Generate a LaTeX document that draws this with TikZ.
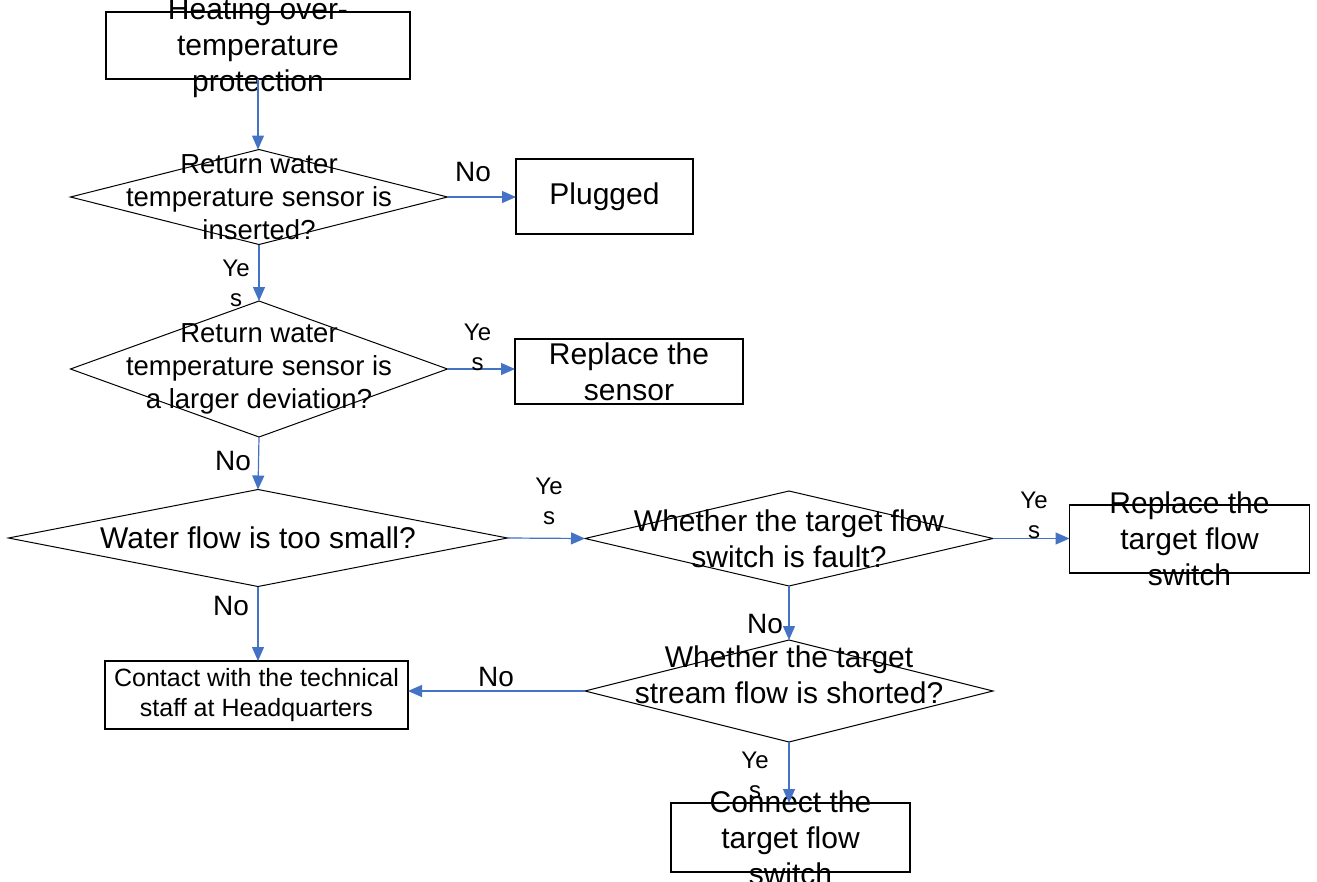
\documentclass[tikz,border=0pt]{standalone}
\usepackage{fontspec}
\setmainfont{Liberation Sans}
\definecolor{bleu}{RGB}{68,114,196}
\usetikzlibrary{arrows.meta,shapes.geometric}

\begin{document}
\begin{tikzpicture}[x=1pt, y=-1pt, thin] % pixel grid
  \tikzstyle{every node}=[inner sep=0pt, outer sep=0pt, text=black]
  \tikzstyle{box}=[rectangle, draw=black, line width=1.1pt]
  \tikzstyle{test}=[diamond, draw=black, line width=1pt]
  \tikzstyle{big}=[align=center, font=\fontsize{30}{36}\selectfont]
  \tikzstyle{mid}=[align=center, font=\fontsize{27.5}{33}\selectfont]
  \tikzstyle{small}=[align=center, font=\fontsize{25}{30}\selectfont]
  \tikzstyle{yes}=[align=center, font=\fontsize{24}{30}\selectfont]
  \tikzstyle{no}=[font=\fontsize{28}{34}\selectfont]
  \tikzstyle{link}=[draw=bleu, line width=1.2pt, -{Triangle[length=14pt,width=12pt]}]

  \useasboundingbox (0,0) rectangle (1317,881);

  % shapes
  \node[box, minimum width=304pt, minimum height=67pt] (B0) at (258,45.5) {};
  \node[test, minimum width=377pt, minimum height=95pt] (D1) at (259,197) {};
  \node[box, minimum width=177pt, minimum height=75pt] (B1) at (604.5,196.5) {};
  \node[test, minimum width=377pt, minimum height=136pt] (D2) at (259,369) {};
  \node[box, minimum width=228pt, minimum height=65pt] (B2) at (629,371.5) {};
  \node[test, minimum width=499pt, minimum height=97pt] (D3) at (258,538) {};
  \node[test, minimum width=408pt, minimum height=95pt] (D4) at (789,538.5) {};
  \node[box, minimum width=240pt, minimum height=68pt] (B3) at (1189.5,539) {};
  \node[test, minimum width=408pt, minimum height=102pt] (D5) at (789,691) {};
  \node[box, minimum width=303pt, minimum height=68pt] (B4) at (256.5,695) {};
  \node[box, minimum width=239pt, minimum height=69pt] (B5) at (790.5,837.5) {};

  % texts
  \node[big] (T0) at ([yshift=-2.5pt]B0.center) {Heating over-\\temperature\\protection};
  \node[mid] (T1) at (D1.center) {Return water\\temperature sensor is\\inserted?};
  \node[big] (T2) at (B1.center) {Plugged};
  \node[mid] (T3) at (D2.center) {Return water\\temperature sensor is\\a larger deviation?};
  \node[big] (T4) at (B2.center) {Replace the\\sensor};
  \node[big] (T5) at (D3.center) {Water flow is too small?};
  \node[big] (T6) at (D4.center) {Whether the target flow\\switch is fault?};
  \node[big] (T7) at (B3.center) {Replace the\\target flow\\switch};
  \node[big] (T8) at ([yshift=16pt]D5.center) {Whether the target\\stream flow is shorted?};
  \node[small] (T9) at (B4.center) {Contact with the technical\\staff at Headquarters};
  \node[big] (T10) at (B5.center) {Connect the\\target flow\\switch};

  % connectors
  \path[link] (B0.south) -- (B0.south |- D1.north);
  \path[link] (D1.east) -- (D1.east -| B1.west);
  \path[link] (D1.south) -- (D2.north);
  \path[link] (D2.east) -- (D2.east -| B2.west);
  \path[link] (D2.south) -- (D3.north);
  \path[link] (D3.east) -- (D4.west);
  \path[link] (D3.south) -- (D3.south |- B4.north);
  \path[link] (D4.east) -- (D4.east -| B3.west);
  \path[link] (D4.south) -- (D5.north);
  \path[link] (D5.west) -- (D5.west -| B4.east);
  \path[link] (D5.south) -- (D5.south |- B5.north);

  % branch labels
  \node[no] (N1) at (473,172) {No};
  \node[yes] (Y1) at (236,283) {Ye\\s};
  \node[yes] (Y2) at (477.5,347) {Ye\\s};
  \node[no] (N2) at (233,461) {No};
  \node[yes] (Y3) at (549,501) {Ye\\s};
  \node[yes] (Y4) at (1034,515) {Ye\\s};
  \node[no] (N3) at (231,606) {No};
  \node[no] (N4) at (765,624) {No};
  \node[no] (N5) at (496,677) {No};
  \node[yes] (Y5) at (755,775) {Ye\\s};

\end{tikzpicture}
\end{document}
